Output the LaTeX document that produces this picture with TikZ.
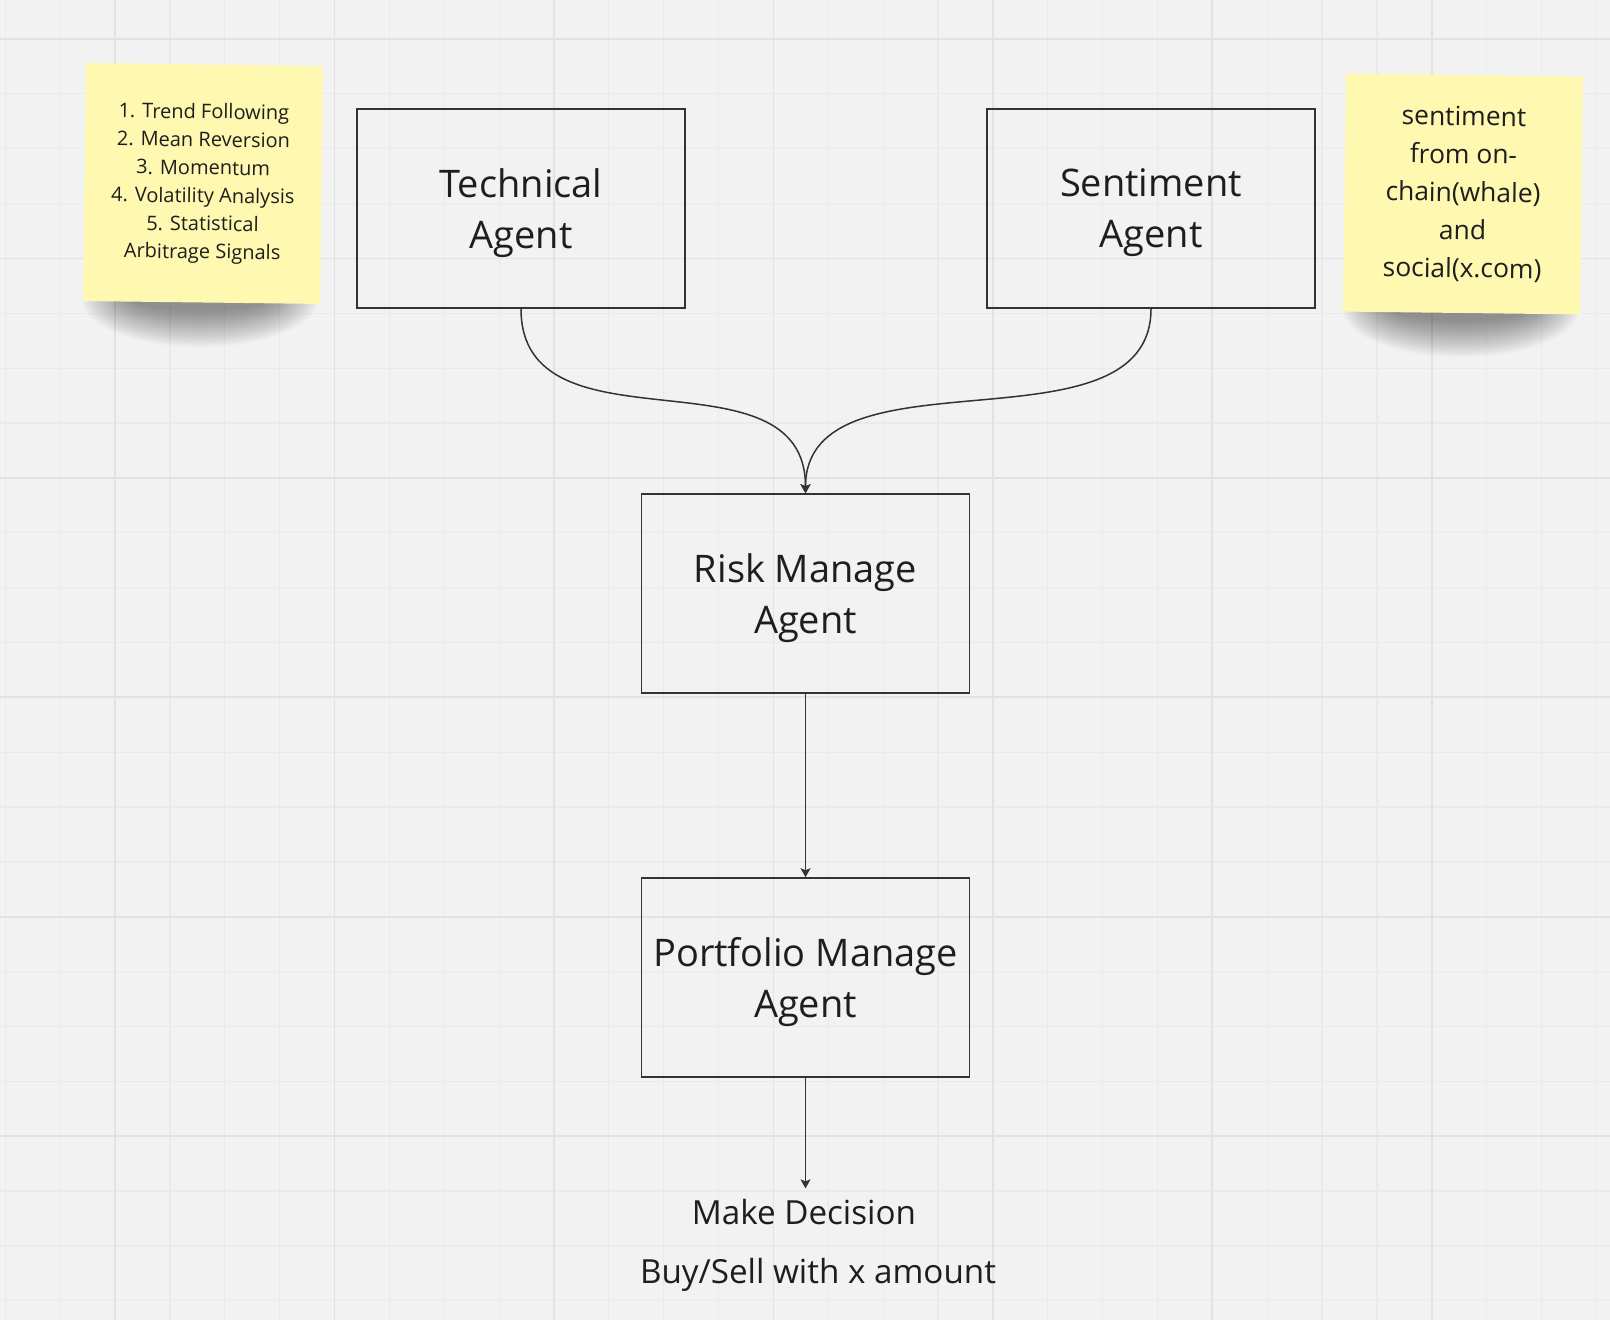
\documentclass[tikz,border=0pt]{standalone}
\usepackage{fontspec}
\setmainfont{Open Sans}
\usetikzlibrary{arrows.meta,positioning}

\definecolor{paper}{HTML}{F2F2F2}
\definecolor{gridminor}{HTML}{EAEAEA}
\definecolor{gridmajor}{HTML}{E2E2E2}
\definecolor{inkline}{HTML}{333333}
\definecolor{inktext}{HTML}{1E1E1E}
\definecolor{sticky}{HTML}{FEF8B1}

\begin{document}
\begin{tikzpicture}[x=0.5pt, y=-0.5pt,
  agent/.style={rectangle, draw=inkline, line width=0.75pt, minimum width=164pt, minimum height=99.5pt,
    inner sep=2pt, align=center, text depth=0pt, text=inktext, font=\fontsize{19}{25.5}\selectfont},
  note/.style={rectangle, fill=sticky, minimum width=118.5pt, minimum height=119pt, inner sep=2pt,
    align=center, text=inktext, rotate=-0.7},
  outcome/.style={inner xsep=0pt, inner ysep=5pt, text=inktext, font=\fontsize{16.6}{20}\selectfont},
  flow/.style={draw=inkline, line width=0.75pt, -{Stealth[length=4.5pt,width=5pt,inset=1pt]}}]

\useasboundingbox (0,0) rectangle (1610,1320);
\fill[paper] (0,0) rectangle (1610,1320);

% grid
\foreach \i in {0,...,29}
  \draw[gridminor, line width=0.6pt] ({5.4+54.86*\i},0) -- ({5.4+54.86*\i},1320);
\foreach \j in {0,...,23}
  \draw[gridminor, line width=0.6pt] (0,{39+54.86*\j}) -- (1610,{39+54.86*\j});
\foreach \i in {0,...,6}
  \draw[gridmajor, line width=0.9pt] ({115.1+219.44*\i},0) -- ({115.1+219.44*\i},1320);
\foreach \j in {0,...,5}
  \draw[gridmajor, line width=0.9pt] (0,{39+219.44*\j}) -- (1610,{39+219.44*\j});

% shadows under the notes
\foreach \s in {0,...,19} {
  \fill[black, opacity=0.024] (200,299) ellipse ({118-2.6*\s} and {48-1.9*\s});
  \fill[black, opacity=0.024] (1461,309) ellipse ({118-2.6*\s} and {48-1.9*\s});
}

% notes
\node[note, font=\fontsize{10}{14}\selectfont] (signals) at (203,183.5)
  {1. Trend Following\\2. Mean Reversion\\3. Momentum\\4. Volatility Analysis\\5. Statistical\\Arbitrage Signals};
\node[note, font=\fontsize{13.2}{19}\selectfont] (social) at (1463,194)
  {sentiment\\from on-\\chain(whale)\\and\\social(x.com)};

% agents
\node[agent] (tech) at (521,208.5) {Technical\\Agent};
\node[agent] (senti) at (1151,208.5) {Sentiment\\Agent};
\node[agent] (risk) at (805.5,593.5) {Risk Manage\\Agent};
\node[agent] (folio) at (805.5,977.5) {Portfolio Manage\\Agent};

\node[outcome, anchor=base] (decide) at (804,1224) {Make Decision};
\node[outcome, anchor=base] (trade) at (818,1283) {Buy/Sell with x amount};

\draw[flow] (tech.south) .. controls +(0,150) and +(0,-150) .. (risk.north);
\draw[flow] (senti.south) .. controls +(0,150) and +(0,-150) .. (risk.north);
\draw[flow] (risk) -- (folio);
\draw[flow] (folio.south) -- (folio.south |- decide.north);
\end{tikzpicture}
\end{document}
